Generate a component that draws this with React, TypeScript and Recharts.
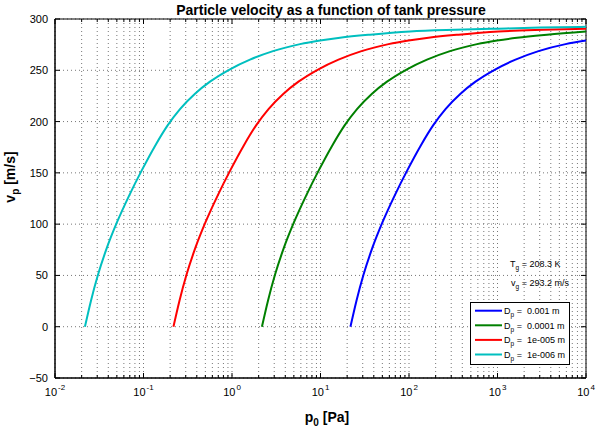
import React from 'react';
import {
  LineChart,
  Line,
  XAxis,
  YAxis,
  CartesianGrid,
  Legend,
  ReferenceArea,
  Customized,
} from 'recharts';

// Particle velocity, one pair of arrays per particle size
const pBlue = [21.8, 25.5, 30.6, 38.7, 50.2, 68.6, 96.2, 135, 189, 258.5, 382, 564, 949, 1597, 2906, 5870, 10000];
const vBlue = [0, 25.4, 50.6, 77.3, 101.9, 127.6, 152.9, 176.3, 196.8, 212.2, 227.2, 238.9, 251, 260.4, 268.7, 275.5, 279];

const pGreen = [2.18, 2.55, 3.06, 3.87, 5.02, 6.86, 9.62, 13.5, 18.9, 25.85, 38.2, 56.4, 94.9, 159.7, 290.6, 587, 987, 1660, 3630, 10000];
const vGreen = [0, 25.4, 50.6, 77.3, 101.9, 127.6, 152.9, 176.3, 196.8, 212.2, 227.2, 238.9, 251, 260.4, 268.7, 275.5, 279, 281.7, 284.7, 287.8];

const pRed = [0.218, 0.255, 0.306, 0.387, 0.502, 0.686, 0.962, 1.35, 1.89, 2.585, 3.82, 5.64, 9.49, 15.97, 29.06, 58.7, 98.7, 166, 363, 1026, 3310, 10000];
const vRed = [0, 25.4, 50.6, 77.3, 101.9, 127.6, 152.9, 176.3, 196.8, 212.2, 227.2, 238.9, 251, 260.4, 268.7, 275.5, 279, 281.7, 284.7, 287.8, 289.5, 290.6];

const pCyan = [0.0218, 0.0255, 0.0306, 0.0387, 0.0502, 0.0686, 0.0962, 0.135, 0.189, 0.2585, 0.382, 0.564, 0.949, 1.597, 2.906, 5.87, 9.87, 16.6, 36.3, 102.6, 331, 1013, 3020, 10000];
const vCyan = [0, 25.4, 50.6, 77.3, 101.9, 127.6, 152.9, 176.3, 196.8, 212.2, 227.2, 238.9, 251, 260.4, 268.7, 275.5, 279, 281.7, 284.7, 287.8, 289.5, 290.6, 291.6, 292.4];

const legendNames = ['0.001 m', '0.0001 m', '1e-005 m', '1e-006 m'];
const colors = ['#0000ff', '#008000', '#ff0000', '#00bfbf'];

const xMajor = [0.01, 0.1, 1, 10, 100, 1000, 10000];
const xExp = ['-2', '-1', '0', '1', '2', '3', '4'];
const yTicks = [-50, 0, 50, 100, 150, 200, 250, 300];

// minor ticks of the log axis: 2..9 in every decade
const xMinor = xMajor
  .slice(0, -1)
  .flatMap((d) => [2, 3, 4, 5, 6, 7, 8, 9].map((m) => Number((d * m).toPrecision(3))));
const xTicks = [...xMajor, ...xMinor].sort((a, b) => a - b);

const toPoints = (p: number[], v: number[]) => p.map((x, i) => ({ p: x, v: v[i] }));

const series = [
  { name: legendNames[0], color: colors[0], data: toPoints(pBlue, vBlue) },
  { name: legendNames[1], color: colors[1], data: toPoints(pGreen, vGreen) },
  { name: legendNames[2], color: colors[2], data: toPoints(pRed, vRed) },
  { name: legendNames[3], color: colors[3], data: toPoints(pCyan, vCyan) },
];

const FONT = '"Liberation Sans", Arial, Helvetica, sans-serif';
const W = 600;
const H = 433;
const PLOT_LEFT = 55;
const PLOT_RIGHT = 586;
const PLOT_TOP = 19;
const PLOT_BOTTOM = 378;

const isMajor = (v: number) => xMajor.findIndex((m) => Math.abs(m - v) / m < 1e-6);

// x tick: inward marks on bottom and top, label 10^n on decades
const XTick = ({ x, payload }: any) => {
  const idx = isMajor(payload.value);
  const len = idx >= 0 ? 5 : 3;
  return (
    <g>
      <line x1={x} x2={x} y1={PLOT_BOTTOM} y2={PLOT_BOTTOM - len} stroke="#000" />
      <line x1={x} x2={x} y1={PLOT_TOP} y2={PLOT_TOP + len} stroke="#000" />
      {idx >= 0 && (
        <text x={x} y={396} textAnchor="middle" fontFamily={FONT} fontSize={11} fill="#000">
          10
          <tspan dx={1} dy={-6} fontSize={8}>
            {xExp[idx]}
          </tspan>
        </text>
      )}
    </g>
  );
};

const YTick = ({ y, payload }: any) => (
  <g>
    <line x1={PLOT_LEFT} x2={PLOT_LEFT + 5} y1={y} y2={y} stroke="#000" />
    <line x1={PLOT_RIGHT} x2={PLOT_RIGHT - 5} y1={y} y2={y} stroke="#000" />
    <text x={48} y={y + 4} textAnchor="end" fontFamily={FONT} fontSize={11} fill="#000">
      {payload.value === -50 ? '\u221250' : payload.value}
    </text>
  </g>
);

const renderLegend = () => (
  <svg width={100} height={63} style={{ display: 'block' }}>
    <rect x={0.5} y={0.5} width={99} height={62} fill="#fff" stroke="#000" />
    {series.map((s, i) => {
      const ry = 8.7 + i * 14.6;
      return (
        <g key={s.name}>
          <line x1={5} x2={32} y1={ry} y2={ry} stroke={s.color} strokeWidth={2} />
          <text x={34} y={ry + 3.3} fontFamily={FONT} fontSize={9} fill="#000" style={{ whiteSpace: 'pre' }}>
            D
            <tspan dy={3} fontSize={6.5}>
              p
            </tspan>
            <tspan dy={-3}>{' =  ' + s.name}</tspan>
          </text>
        </g>
      );
    })}
  </svg>
);

// title, axis labels and the gas state note
const Texts = () => (
  <g fontFamily={FONT} fill="#000">
    <text x={331} y={14.5} textAnchor="middle" fontSize={14} fontWeight="bold">
      Particle velocity as a function of tank pressure
    </text>
    <text x={327} y={422} textAnchor="middle" fontSize={14} fontWeight="bold">
      p<tspan dy={4} fontSize={10}>0</tspan>
      <tspan dy={-4}> [Pa]</tspan>
    </text>
    <text transform="translate(15,177) rotate(-90)" textAnchor="middle" fontSize={14} fontWeight="bold">
      v<tspan dy={4} fontSize={10}>p</tspan>
      <tspan dy={-4}> [m/s]</tspan>
    </text>
    <text x={510} y={267} fontSize={9} style={{ whiteSpace: 'pre' }}>
      T<tspan dy={3} fontSize={6.5}>g</tspan>
      <tspan dy={-3}> = 208.3 K</tspan>
    </text>
    <text x={511} y={286} fontSize={9} style={{ whiteSpace: 'pre' }}>
      v<tspan dy={3} fontSize={6.5}>g</tspan>
      <tspan dy={-3}> = 293.2 m/s</tspan>
    </text>
  </g>
);

export default function App() {
  return (
    <div style={{ position: 'absolute', left: 0, top: 0, width: W, height: H, background: '#fff' }}>
      <LineChart width={W} height={H} margin={{ top: PLOT_TOP, right: W - PLOT_RIGHT, bottom: 0, left: 0 }}>
        <CartesianGrid stroke="#777" strokeDasharray="1 3" />
        <XAxis
          dataKey="p"
          type="number"
          scale="log"
          domain={[0.01, 10000]}
          ticks={xTicks}
          interval={0}
          allowDataOverflow
          height={H - PLOT_BOTTOM}
          tickLine={false}
          axisLine={{ stroke: '#000' }}
          tick={<XTick />}
        />
        <YAxis
          type="number"
          domain={[-50, 300]}
          ticks={yTicks}
          interval={0}
          allowDataOverflow
          width={PLOT_LEFT}
          tickLine={false}
          axisLine={{ stroke: '#000' }}
          tick={<YTick />}
        />
        {series.map((s) => (
          <Line
            key={s.name}
            data={s.data}
            dataKey="v"
            name={s.name}
            type="monotone"
            stroke={s.color}
            strokeWidth={2}
            dot={false}
            isAnimationActive={false}
          />
        ))}
        <ReferenceArea x1={0.01} x2={10000} y1={-50} y2={300} fill="none" stroke="#000" ifOverflow="visible" />
        <Legend
          layout="vertical"
          align="center"
          verticalAlign="middle"
          content={renderLegend}
          wrapperStyle={{ left: 470, top: 302, width: 100, height: 63 }}
        />
        <Customized component={Texts} />
      </LineChart>
    </div>
  );
}
